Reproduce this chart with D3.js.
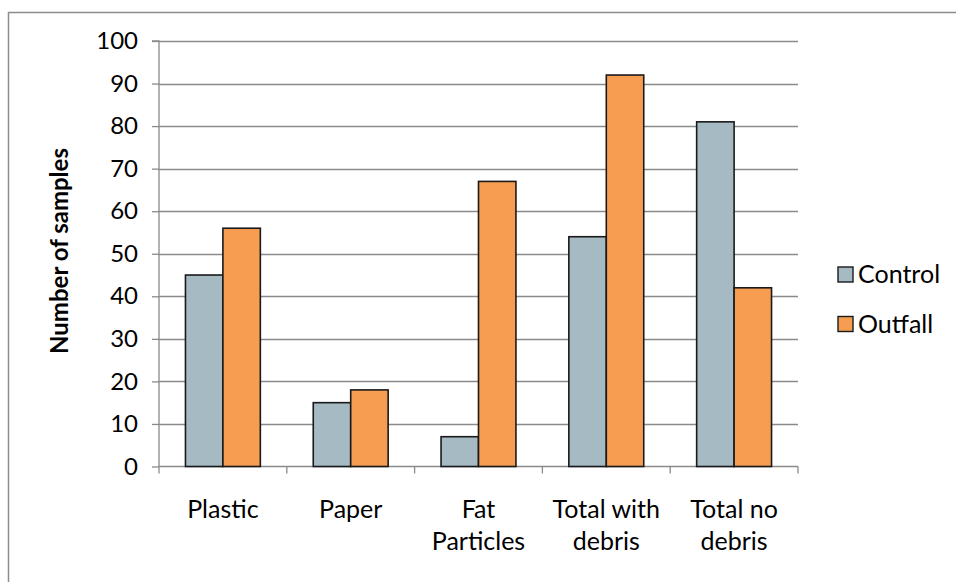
<!DOCTYPE html>
<html>
<head>
<meta charset="utf-8">
<script src="https://cdn.jsdelivr.net/npm/d3@7"></script>
<style>
  html, body { margin: 0; padding: 0; background: #fff; }
  svg { display: block; }
  text { font-family: Lato, "Open Sans", sans-serif; fill: #000; }
</style>
</head>
<body>
<svg id="chart" width="956" height="582"></svg>
<script>
const categories = [["Plastic"], ["Paper"], ["Fat", "Particles"], ["Total with", "debris"], ["Total no", "debris"]];
const seriesNames = ["Control", "Outfall"];
const controlValues = [45, 15, 7, 54, 81];
const outfallValues = [56, 18, 67, 92, 42];
const yTicks = [0, 10, 20, 30, 40, 50, 60, 70, 80, 90, 100];
const colors = ["#A6BAC4", "#F69D52"];

(function () {
const svg = d3.select("#chart");
const W = 956, H = 582;
const pLeft = 159, pRight = 798, pTop = 41, pBottom = 466.5;

// outer border
svg.append("rect").attr("x", 8.5).attr("y", 12.5).attr("width", W + 20).attr("height", H + 20)
  .attr("fill", "none").attr("stroke", "#8c8c8c").attr("stroke-width", 1.5);

const catKeys = categories.map(c => c.join(" "));
const x0 = d3.scaleBand().domain(catKeys).range([pLeft, pRight]).paddingInner(0.414).paddingOuter(0.207);
const x1 = d3.scaleBand().domain(seriesNames).range([0, x0.bandwidth()]);
const y = d3.scaleLinear().domain([0, 100]).range([pBottom, pTop]);

// gridlines
svg.append("g").selectAll("line").data(yTicks.filter(d => d > 0)).join("line")
  .attr("x1", pLeft).attr("x2", pRight)
  .attr("y1", d => Math.round(y(d)) + 0.5).attr("y2", d => Math.round(y(d)) + 0.5)
  .attr("stroke", "#8a8a8a").attr("stroke-width", 1.3);

// y axis
const yAxis = d3.axisLeft(y).tickValues(yTicks).tickSize(7).tickPadding(14);
const gy = svg.append("g").attr("transform", `translate(${pLeft},0)`).call(yAxis);
gy.select(".domain").attr("stroke", "#8a8a8a").attr("stroke-width", 1.3).attr("d", `M-7,${pTop}H0V${pBottom}`);
gy.selectAll(".tick line").attr("stroke", "#8a8a8a").attr("stroke-width", 1.3);
gy.selectAll(".tick text").style("font-family", "Lato, sans-serif").style("font-size", "24px").attr("fill", "#000");

// x axis with ticks at band boundaries
const step = x0.step();
const boundaries = catKeys.map(k => x0(k) - step * x0.paddingInner() / 2).concat([pRight]);
svg.append("line").attr("x1", pLeft).attr("x2", pRight).attr("y1", pBottom).attr("y2", pBottom)
  .attr("stroke", "#8a8a8a").attr("stroke-width", 1.3);
svg.append("g").selectAll("line").data(boundaries).join("line")
  .attr("x1", d => d).attr("x2", d => d).attr("y1", pBottom).attr("y2", pBottom + 7)
  .attr("stroke", "#8a8a8a").attr("stroke-width", 1.3);

// bars
const rows = catKeys.map((k, i) => ({ key: k, values: [controlValues[i], outfallValues[i]] }));
const groups = svg.append("g").selectAll("g").data(rows).join("g")
  .attr("transform", d => `translate(${x0(d.key)},0)`);
groups.selectAll("rect").data(d => d.values.map((v, j) => ({ s: seriesNames[j], v, j }))).join("rect")
  .attr("x", d => x1(d.s)).attr("width", x1.bandwidth())
  .attr("y", d => y(d.v)).attr("height", d => y(0) - y(d.v))
  .attr("fill", d => colors[d.j]).attr("stroke", "#1a1a1a").attr("stroke-width", 1.6);

// x labels
const xl = svg.append("g").selectAll("text").data(categories).join("text")
  .attr("text-anchor", "middle").style("font-size", "25px")
  .attr("x", (d, i) => x0(catKeys[i]) + x0.bandwidth() / 2).attr("y", 518);
xl.selectAll("tspan").data(d => d).join("tspan")
  .attr("x", function () { return this.parentNode.getAttribute("x"); })
  .attr("dy", (d, i) => i === 0 ? 0 : 32).text(d => d);

// y title
svg.append("text").attr("transform", `translate(68,251) rotate(-90)`)
  .attr("text-anchor", "middle").style("font-size", "24px").style("font-weight", "bold")
  .text("Number of samples");

// legend
const leg = svg.append("g").selectAll("g").data(seriesNames).join("g")
  .attr("transform", (d, i) => `translate(838,${267 + i * 49.5})`);
leg.append("rect").attr("width", 15).attr("height", 15)
  .attr("fill", (d, i) => colors[i]).attr("stroke", "#1a1a1a").attr("stroke-width", 1.4);
leg.append("text").attr("x", 20).attr("y", 16).style("font-size", "25px").text(d => d);
})();
</script>
</body>
</html>
